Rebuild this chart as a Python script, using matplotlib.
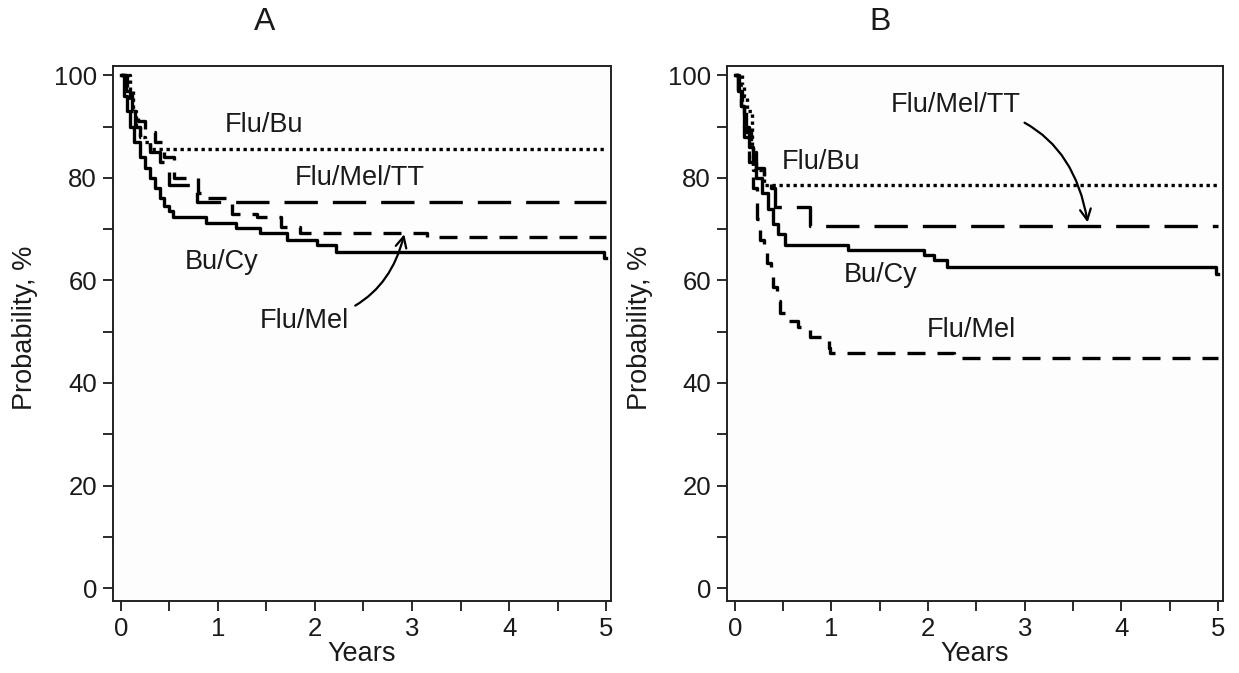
import matplotlib
matplotlib.use("Agg")
import matplotlib.pyplot as plt

plt.rcParams["font.family"] = ["Liberation Sans", "DejaVu Sans"]

# ---- Panel A data (years, probability %) ----
a_bucy_x = [0, 0.03, 0.06, 0.1, 0.14, 0.2, 0.25, 0.3, 0.35, 0.4, 0.45, 0.5, 0.54,
            0.88, 1.19, 1.43, 1.71, 2.02, 2.22, 4.98, 5.0]
a_bucy_y = [100, 96, 93, 90, 87, 84, 82, 80, 78, 76, 74.5, 73.5, 72.3,
            71.1, 70.2, 69.2, 67.8, 66.9, 65.5, 64.3, 64.3]

a_flubu_x = [0, 0.1, 0.13, 0.16, 0.2, 0.25, 0.3, 5.0]
a_flubu_y = [100, 97, 93, 90, 88, 87, 85.7, 85.7]

a_melt_x = [0, 0.05, 0.1, 0.15, 0.2, 0.3, 0.4, 0.5, 0.79, 5.0]
a_melt_y = [100, 97, 93, 90, 88, 85, 83, 78.6, 75.2, 75.2]

a_mel_x = [0, 0.06, 0.12, 0.18, 0.25, 0.35, 0.45, 0.55, 0.8, 0.9, 1.15, 1.4, 1.65,
           1.85, 3.15, 5.0]
a_mel_y = [100, 97, 93, 91, 89, 87, 84, 80, 77, 76, 73, 72.3, 70.5,
           69.2, 68.4, 68.4]

# ---- Panel B data ----
b_bucy_x = [0, 0.03, 0.06, 0.1, 0.15, 0.19, 0.22, 0.28, 0.34, 0.4, 0.45, 0.52,
            1.17, 1.96, 2.06, 2.2, 4.98, 5.0]
b_bucy_y = [100, 97, 94, 90, 86, 83, 80, 77, 74, 71, 69, 66.9,
            65.9, 64.9, 63.9, 62.6, 61.2, 61.2]

b_flubu_x = [0, 0.08, 0.1, 0.13, 0.18, 0.19, 0.3, 5.0]
b_flubu_y = [100, 98, 96, 93, 86, 81.5, 78.6, 78.6]

b_melt_x = [0, 0.04, 0.08, 0.12, 0.17, 0.22, 0.3, 0.38, 0.42, 0.78, 5.0]
b_melt_y = [100, 97, 93, 89, 85, 82, 80, 78, 74.3, 70.6, 70.6]

b_mel_x = [0, 0.03, 0.06, 0.1, 0.15, 0.19, 0.23, 0.26, 0.3, 0.33, 0.37, 0.4, 0.44,
           0.47, 0.56, 0.65, 0.78, 0.97, 0.99, 2.27, 5.0]
b_mel_y = [100, 97, 94, 88, 83, 78, 72, 67.8, 65.5, 63.4, 61, 58.7, 56,
           53.6, 52, 50.9, 48.9, 46.8, 45.8, 44.8, 44.8]

years_ticks = [0, 1, 2, 3, 4, 5]
prob_ticks = [0, 20, 40, 60, 80, 100]

fig = plt.figure(figsize=(12.39, 6.73), dpi=100)
ax_a = fig.add_axes([113 / 1239, 72 / 673, 498 / 1239, 535 / 673])
ax_b = fig.add_axes([727 / 1239, 72 / 673, 496 / 1239, 535 / 673])

lw = 2.4
styles = {
    "bucy": dict(color="black", lw=lw, linestyle="-"),
    "flubu": dict(color="black", lw=lw, linestyle=(0, (1, 1.1))),
    "melt": dict(color="black", lw=lw, linestyle=(0, (10, 4.5))),
    "mel": dict(color="black", lw=lw, linestyle=(0, (5.4, 3.6))),
}


def draw_panel(ax, curves):
    for (x, y), key in curves:
        ax.step(x, y, where="post", dash_capstyle="butt", **styles[key])
    ax.set_xlim(-0.08, 5.05)
    ax.set_ylim(-2.5, 101.8)
    ax.set_xticks(years_ticks)
    ax.set_xticks([0.5, 1.5, 2.5, 3.5, 4.5], minor=True)
    ax.set_yticks(prob_ticks)
    ax.set_yticks([10, 30, 50, 70, 90], minor=True)
    ax.tick_params(which="both", direction="out", length=7.5, width=1.3,
                   labelsize=18.5, pad=4, colors="#1a1a1a")
    for s in ax.spines.values():
        s.set_linewidth(1.4)
        s.set_color("#222222")
    ax.set_facecolor("#fdfdfd")


draw_panel(ax_a, [((a_flubu_x, a_flubu_y), "flubu"),
                  ((a_melt_x, a_melt_y), "melt"),
                  ((a_mel_x, a_mel_y), "mel"),
                  ((a_bucy_x, a_bucy_y), "bucy")])
draw_panel(ax_b, [((b_flubu_x, b_flubu_y), "flubu"),
                  ((b_melt_x, b_melt_y), "melt"),
                  ((b_mel_x, b_mel_y), "mel"),
                  ((b_bucy_x, b_bucy_y), "bucy")])

fs = 19.5
tc = "#1a1a1a"
ax_a.text(1.48, 90.3, "Flu/Bu", fontsize=fs, ha="center", va="center", color=tc)
ax_a.text(2.46, 79.9, "Flu/Mel/TT", fontsize=fs, ha="center", va="center", color=tc)
ax_a.text(1.04, 63.5, "Bu/Cy", fontsize=fs, ha="center", va="center", color=tc)
ax_a.annotate("Flu/Mel", xy=(2.92, 69.0), xytext=(1.89, 52.0), fontsize=fs,
              ha="center", va="center", color=tc,
              arrowprops=dict(arrowstyle="->", color="black", lw=1.6,
                              shrinkA=3, shrinkB=0,
                              connectionstyle="arc3,rad=0.35"))

ax_b.annotate("Flu/Mel/TT", xy=(3.65, 71.3), xytext=(2.29, 94.2), fontsize=fs,
              ha="center", va="center", color=tc,
              arrowprops=dict(arrowstyle="->", color="black", lw=1.6,
                              shrinkA=3, shrinkB=0,
                              connectionstyle="arc3,rad=-0.4"))
ax_b.text(0.89, 83.0, "Flu/Bu", fontsize=fs, ha="center", va="center", color=tc)
ax_b.text(1.51, 61.0, "Bu/Cy", fontsize=fs, ha="center", va="center", color=tc)
ax_b.text(2.45, 50.3, "Flu/Mel", fontsize=fs, ha="center", va="center", color=tc)

for ax in (ax_a, ax_b):
    ax.set_xlabel("Years", fontsize=fs, labelpad=0, color=tc)
    ax.set_ylabel("Probability, %", fontsize=fs, color=tc)
    ax.yaxis.set_label_coords(-0.15, 0.51)

fig.text(265 / 1239, 1 - 22 / 673, "A", fontsize=23, ha="center", va="center", color=tc)
fig.text(880 / 1239, 1 - 22 / 673, "B", fontsize=23, ha="center", va="center", color=tc)

fig.savefig("out.png", dpi=100, facecolor="white")
